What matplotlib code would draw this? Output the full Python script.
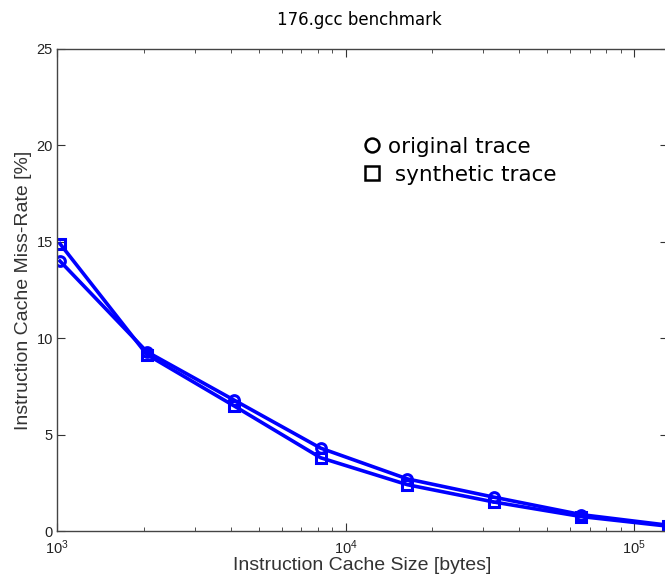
import numpy as np
import matplotlib
matplotlib.use('Agg')
import matplotlib.pyplot as plt
from matplotlib.lines import Line2D
from matplotlib.ticker import LogLocator, NullFormatter

# cache sizes in bytes
cache_size = [1024, 2048, 4096, 8192, 16384, 32768, 65536, 131072]
# miss rates [%]
original = [14.0, 9.3, 6.8, 4.3, 2.7, 1.75, 0.85, 0.3]
synthetic = [14.9, 9.15, 6.5, 3.8, 2.4, 1.5, 0.75, 0.25]

fig = plt.figure(figsize=(6.65, 5.78), dpi=100)
ax = fig.add_axes([0.0857, 0.0813, 0.919, 0.834])

ax.plot(cache_size, original, '-o', color='blue', lw=2.6, ms=7, mfc='none', mew=2.2)
ax.plot(cache_size, synthetic, '-s', color='blue', lw=2.6, ms=7, mfc='none', mew=2.2)

ax.set_xscale('log')
ax.set_xlim(1000, 131072)
ax.set_ylim(0, 25)
ax.set_yticks([0, 5, 10, 15, 20, 25])
ax.xaxis.set_minor_locator(LogLocator(base=10, subs=np.arange(2, 10)))
ax.xaxis.set_minor_formatter(NullFormatter())

ax.tick_params(which='both', direction='in', top=True, right=True,
               labelsize=10.5, colors='#333333', labelcolor='#222222')
ax.tick_params(axis='y', pad=3)
ax.tick_params(axis='x', pad=5)
ax.tick_params(which='major', length=6)
ax.tick_params(which='minor', length=3)
for sp in ax.spines.values():
    sp.set_color('#444444')
    sp.set_linewidth(1.0)

for lab in ax.get_xticklabels() + ax.get_yticklabels():
    lab.set_family('Liberation Sans')

ax.set_xlabel('Instruction Cache Size [bytes]', fontsize=14, family='Liberation Sans',
              color='#333333', labelpad=0)
ax.set_ylabel('Instruction Cache Miss-Rate [%]', fontsize=14, family='Liberation Sans',
              color='#333333', labelpad=3)

fig.text(0.54, 0.965, '176.gcc benchmark', ha='center', va='center',
         fontsize=12, family='DejaVu Sans')

handles = [Line2D([], [], marker='o', color='k', mfc='none', mew=1.8, ms=10, ls='none'),
           Line2D([], [], marker='s', color='k', mfc='none', mew=1.8, ms=10, ls='none')]
ax.legend(handles, ['original trace', ' synthetic trace'], loc='upper left',
          bbox_to_anchor=(0.466, 0.858), frameon=False, fontsize=15.5,
          handletextpad=0.25, labelspacing=0.38, handlelength=1.0)

fig.savefig('out.png', dpi=100)
